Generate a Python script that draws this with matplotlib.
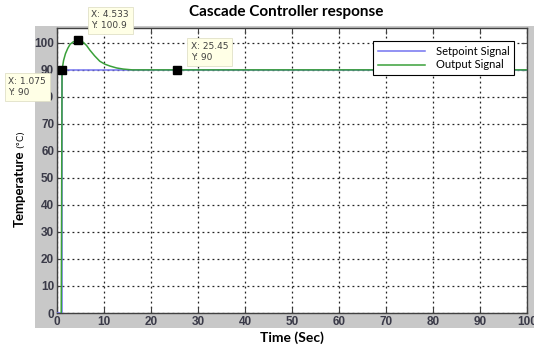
import numpy as np
import matplotlib
matplotlib.use('Agg')
from matplotlib import pyplot as plt
from matplotlib.patches import Rectangle

# setpoint step
sp_time = [0, 1.0, 1.0, 100]
sp_temp = [0, 0, 90, 90]

# output response
out_time = [0.9, 1.075, 1.4, 1.8, 2.3, 2.8, 3.4, 4.0, 4.533, 5.0, 5.6, 6.3, 7.0,
            8.0, 9.1, 10.2, 11.3, 12.7, 14.1, 16.0, 20.0, 25.45, 100]
out_temp = [0, 90, 93.5, 96, 98, 99.5, 100.3, 100.7, 100.9, 100.7, 100.2, 99.0, 97.3,
            95.2, 93.2, 92.1, 91.4, 90.7, 90.3, 90.0, 90, 90, 90]

# data tips
tip_x = [1.075, 4.533, 25.45]
tip_y = [90, 100.9, 90]
tip_labels = ["X: 1.075\nY: 90", "X: 4.533\nY: 100.9", "X: 25.45\nY: 90"]
tip_offsets = [(-35, -17), (32, 20), (33, 18)]

xticks = np.arange(0, 101, 10)
yticks = np.arange(0, 101, 10)

fig = plt.figure(figsize=(5.34, 3.5), dpi=100)
fig.patch.set_facecolor('white')

# grey matlab-ish panel behind the axes
fig.patches.append(Rectangle((35 / 534, 22 / 350), 1 - 35 / 534, (328 - 26) / 350,
                             transform=fig.transFigure, facecolor='#c8c8c8',
                             edgecolor='none', zorder=0))

ax = fig.add_axes([57 / 534, 37 / 350, 470 / 534, 285 / 350])
ax.set_zorder(2)
ax.set_facecolor('white')

ax.plot(sp_time, sp_temp, color='#7474f0', lw=1.1, label='Setpoint Signal', zorder=3)
ax.plot(out_time, out_temp, color='#3aa03a', lw=1.1, label='Output Signal', zorder=4)

ax.set_xlim(0, 100)
ax.set_ylim(0, 105.5)
ax.set_xticks(xticks)
ax.set_yticks(yticks)
ax.grid(True, color='#222222', linestyle=(0, (1.5, 2.5)), linewidth=0.9)
ax.tick_params(direction='in', top=True, right=True, length=4, width=0.8,
               colors='#404040', labelcolor='#3a3a48', labelsize=8.5, pad=2)
for lab in ax.get_xticklabels() + ax.get_yticklabels():
    lab.set_family('Liberation Sans')
    lab.set_fontweight('bold')
for s in ax.spines.values():
    s.set_color('#404040')
    s.set_linewidth(1.0)

for x, y, txt, off in zip(tip_x, tip_y, tip_labels, tip_offsets):
    ax.plot(x, y, marker='s', color='black', markersize=5.8, zorder=6, clip_on=False)
    ax.annotate(txt, xy=(x, y), xytext=off, textcoords='offset pixels',
                ha='center', va='center', multialignment='left', fontsize=6.5,
                color='#404040', family='DejaVu Sans', linespacing=1.3, zorder=7,
                annotation_clip=False,
                bbox=dict(boxstyle='square,pad=0.4', facecolor='#ffffe6',
                          edgecolor='#e0e0c8', linewidth=0.6))

leg = ax.legend(loc='upper right', bbox_to_anchor=(0.985, 0.975), fancybox=False,
                framealpha=1, edgecolor='black', handlelength=4.2, handletextpad=1.0,
                prop={'family': 'Lato', 'size': 8}, borderpad=0.45, labelspacing=0.25)
leg.get_frame().set_linewidth(0.8)
leg.set_zorder(8)

fig.text(286 / 534, 1 - 12 / 350, 'Cascade Controller response', ha='center', va='center',
         fontsize=11, fontweight='bold', family='Lato')
fig.text(292 / 534, 1 - 338 / 350, 'Time (Sec)', ha='center', va='center',
         fontsize=10, fontweight='bold', family='Lato')
fig.text(20 / 534, 1 - 227 / 350, 'Temperature', ha='center', va='bottom', rotation=90,
         fontsize=9.5, fontweight='bold', family='Lato')
fig.text(21 / 534, 1 - 148 / 350, '(°C)', ha='center', va='bottom', rotation=90,
         fontsize=6.5, family='DejaVu Sans')

fig.savefig('out.png', dpi=100, facecolor='white')
